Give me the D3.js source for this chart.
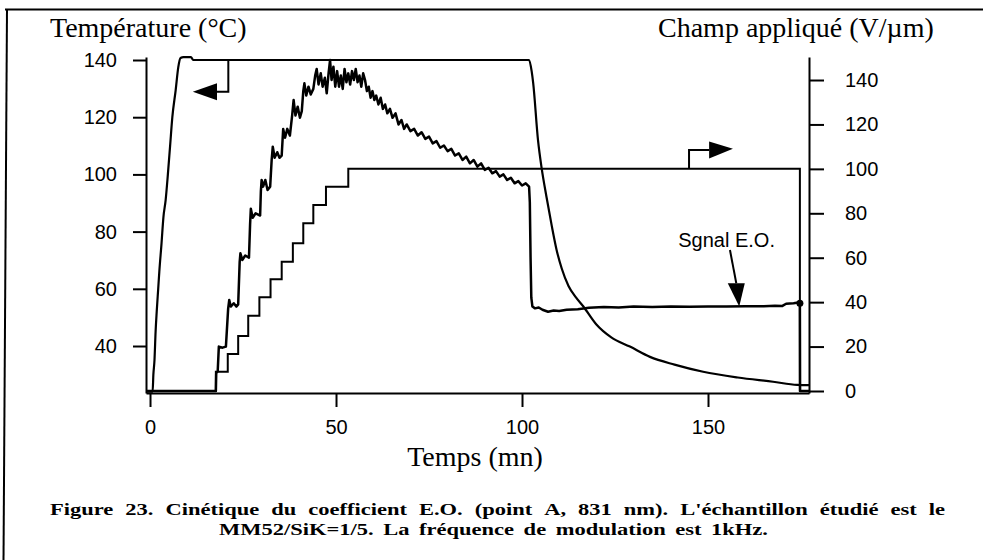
<!DOCTYPE html>
<html><head><meta charset="utf-8">
<script src="https://cdn.jsdelivr.net/npm/d3@7"></script>
<style>
html,body{margin:0;padding:0;background:#fff;}
svg{display:block;}
</style></head>
<body><svg id="c" width="983" height="560"></svg>
<script>
// ---------- data ----------
const xTicks = [0, 50, 100, 150];
const leftTicks = [40, 60, 80, 100, 120, 140];
const rightTicks = [0, 20, 40, 60, 80, 100, 120, 140];

const titleLeft = "Température (°C)";
const titleRight = "Champ appliqué (V/µm)";
const titleX = "Temps (mn)";
const signalLabel = "Sgnal E.O.";
const captionLine1 = "Figure 23. Cinétique du coefficient E.O. (point A, 831 nm). L'échantillon étudié est le";
const captionLine2 = "MM52/SiK=1/5. La fréquence de modulation est 1kHz.";

// temperature (°C, left axis) vs time (mn)
const temperature = [
  [-1.08,24],[0.7,24],[0.9,30],[1.2,35],[1.5,45],[1.8,52],[2.2,60],[2.5,66],[3.1,76],[3.6,85],
  [4.2,91],[4.8,100],[5.4,110],[6.0,120],[6.9,129.5],[7.6,137.5],[8.2,140.7],[9,141],[11,141],
  [11.6,140],[30,140],[60,140],[90,140],[101.9,140],[102.6,136],[103,132],[104.3,112],[105.3,102],
  [106.6,92],[108,82],[109.3,73.6],[110.7,67],[112.5,61],[114.5,57],[116.5,53.8],[120,47.5],
  [124,43],[129,39.8],[134.4,36.2],[141,33.5],[148.7,31],[158,29],[167.5,27.5],[174,26.4],[177.15,26.3]
];

// applied field (V/µm, right axis) – step function
const field = [
  [-1.08,0],[17.7,8.7],[20.9,16.7],[23.7,24.8],[26.4,33.9],[29.4,42.2],[32.4,50.3],[35.4,58.2],
  [38.4,66.5],[41.2,75.5],[43.9,83.7],[47.3,92],[53.3,100],[174.7,0],[177.15,0]
];

// E.O. signal (right-axis units)
const signalEO = [
  [-1.08,0],[17.7,0],[17.8,8],[18.2,9],[18.5,20],[19.5,19.5],[20.4,20],[21.0,37],[21.3,41],[21.7,38],
  [22.5,39.5],[23.2,38],[23.7,39],[24.1,58],[24.3,62],[24.8,59],[25.6,61],[26.6,60],[26.9,75],[27.1,82],
  [27.6,78],[28.4,80],[29.6,79],[29.8,90],[30.0,95],[30.4,92],[31.0,95],[31.6,90.5],[32.3,92],[32.7,104],
  [33.0,110],[33.5,105],[34.2,107.5],[34.8,105],[35.4,106],[35.8,118],[36.3,114],[36.9,118],[37.6,115],
  [38.2,124],[38.6,131],[39.1,124],[39.7,128],[40.3,123],[40.8,126],[41.2,135],[41.5,138.5],[42.0,133],
  [42.6,137],[43.2,133.5],[43.9,136],[44.4,142],[44.8,145],[45.3,138],[45.9,143],[46.4,137],[47.0,141],
  [47.5,134],[48.0,143],[48.4,149],[48.8,140],[49.3,146],[49.8,137],[50.3,144],[50.8,137],[51.3,142],
  [51.8,136],[52.3,145],[52.8,139],[53.3,143],[53.8,138],[54.3,144],[54.8,140],[55.3,145],[55.8,139],
  [56.3,142],[56.8,137],[57.3,143],[57.8,140],[58.3,135],[58.8,137],[59.3,132],[59.8,135],[60.3,131],
  [60.8,133],[61.4,129],[62,132],[62.6,127],[63.2,129],[63.8,125],[64.5,127],[65.2,123],[66,125],
  [66.8,120],[67.6,122],[68.3,118],[69,120],[70,117],[71,118],[72,115],[73,116.5],[74,113.5],[75,114.5],
  [76,111.5],[77,112.5],[78,109.5],[79,110.5],[80,108],[81,109],[82,106],[83,107],[84,104],[85,105.5],
  [86,102.5],[87,104],[88,101],[89,102.5],[90,99.5],[91,100.5],[92,98],[93,99],[94,96.5],[95,97.5],
  [96,95],[97,96],[98,93.5],[99,94.5],[100,92.5],[101,93.5],[101.9,92],[102.1,85],[102.3,60],[102.5,42],
  [102.8,38],[103.5,37.2],[104.5,37.6],[105.5,36.6],[107,35.7],[108.5,36.2],[110,36],[112,36.6],
  [115,36.8],[118,37.5],[122,37.8],[126,37.6],[130,38],[135,37.8],[140,38],[145,37.9],[150,38],
  [155,38],[160,38.1],[165,38.2],[168,38.4],[170,38.3],[171,39.3],[173,39.5],[174.3,39.8],[174.7,39.5],
  [174.75,0],[177.15,0]
];

// annotation arrows (data units)
const arrowTemp  = {start:[21.05,140],   corner:[21.05,128.9], base:[18.0,128.9],  tip:[11.5,128.9]}; // left axis
const arrowField = {start:[144.9,100],   corner:[144.9,108.5], base:[150.3,108.5], tip:[156.7,109]};  // right axis
const arrowSig   = {start:[155.9,63.5],  base:[157.6,48.5],    tip:[158.4,38]};                        // right axis
const signalLabelPos = [142.0, 65];

// ---------- drawing ----------
const svg = d3.select("#c");
const x  = d3.scaleLinear().domain([-1.08, 177.15]).range([146, 809]);
const yL = d3.scaleLinear().domain([23.57, 141.05]).range([393, 57]);
const yR = d3.scaleLinear().domain([-0.9, 150.36]).range([393, 57]);

const ink = "#000";
const sans = "'Liberation Sans', Arial, Helvetica, sans-serif";
const serif = "'Liberation Serif', 'Times New Roman', Times, serif";

// frame
svg.append("line").attr("x1",5).attr("y1",9.5).attr("x2",983).attr("y2",9.5).attr("stroke",ink).attr("stroke-width",2);
svg.append("line").attr("x1",7).attr("y1",9).attr("x2",3.5).attr("y2",560).attr("stroke",ink).attr("stroke-width",2);

// axes
function styleAxis(g){
  g.selectAll("path.domain").attr("stroke",ink).attr("stroke-width",2);
  g.selectAll(".tick line").attr("stroke",ink).attr("stroke-width",2);
  g.selectAll(".tick text").attr("font-family",sans).attr("font-size",20).attr("fill",ink);
}
const gx = svg.append("g").attr("transform","translate(0,393)")
  .call(d3.axisBottom(x).tickValues(xTicks).tickSize(14).tickSizeOuter(0).tickPadding(13));
styleAxis(gx);
const gl = svg.append("g").attr("transform","translate(146,0)")
  .call(d3.axisLeft(yL).tickValues(leftTicks).tickSize(13).tickSizeOuter(0).tickPadding(16));
styleAxis(gl);
const gr = svg.append("g").attr("transform","translate(809,0)")
  .call(d3.axisRight(yR).tickValues(rightTicks).tickSize(15).tickSizeOuter(0).tickPadding(21));
styleAxis(gr);

// series
const lineL = d3.line().x(d=>x(d[0])).y(d=>yL(d[1])).curve(d3.curveMonotoneX);
const lineR = d3.line().x(d=>x(d[0])).y(d=>yR(d[1]));
const lineStep = d3.line().x(d=>x(d[0])).y(d=>yR(d[1])).curve(d3.curveStepAfter);

svg.append("path").datum(field).attr("d",lineStep).attr("fill","none").attr("stroke",ink).attr("stroke-width",2);
svg.append("path").datum(temperature).attr("d",lineL).attr("fill","none").attr("stroke",ink).attr("stroke-width",2.2);
svg.append("path").datum(signalEO).attr("d",lineR).attr("fill","none").attr("stroke",ink).attr("stroke-width",2.5).attr("stroke-linejoin","round");
const endPt = signalEO[signalEO.length-3];
svg.append("circle").attr("cx",x(endPt[0])).attr("cy",yR(endPt[1])).attr("r",3.5).attr("fill",ink);

// arrows
function elbowArrow(a, ys, half){
  const p = [a.start,a.corner,a.base].map(d=>[x(d[0]),ys(d[1])]);
  svg.append("path").attr("d",d3.line()(p)).attr("fill","none").attr("stroke",ink).attr("stroke-width",2);
  const bx = x(a.base[0]), by = ys(a.base[1]), tx = x(a.tip[0]), ty = ys(a.tip[1]);
  svg.append("path").attr("d",`M${tx},${ty}L${bx},${by-half}L${bx},${by+half}Z`).attr("fill",ink);
}
elbowArrow(arrowTemp, yL, 8.5);
elbowArrow(arrowField, yR, 8.5);

{
  const sx = x(arrowSig.start[0]), sy = yR(arrowSig.start[1]);
  const bx = x(arrowSig.base[0]), by = yR(arrowSig.base[1]);
  const tx = x(arrowSig.tip[0]), ty = yR(arrowSig.tip[1]);
  svg.append("line").attr("x1",sx).attr("y1",sy).attr("x2",bx).attr("y2",by).attr("stroke",ink).attr("stroke-width",2);
  svg.append("path").attr("d",`M${tx},${ty}L${bx-8.5},${by}L${bx+8.5},${by}Z`).attr("fill",ink);
}
svg.append("text").attr("x",x(signalLabelPos[0])).attr("y",yR(signalLabelPos[1]))
  .attr("font-family",sans).attr("font-size",20).attr("fill",ink).text(signalLabel);

// titles
svg.append("text").attr("x",50).attr("y",37).attr("font-family",serif).attr("font-size",28).attr("fill",ink).text(titleLeft);
svg.append("text").attr("x",658).attr("y",37).attr("font-family",serif).attr("font-size",28).attr("fill",ink).text(titleRight);
svg.append("text").attr("x",475).attr("y",466).attr("text-anchor","middle").attr("font-family",serif).attr("font-size",28).attr("fill",ink).text(titleX);

// caption (justified bold serif)
function placeWords(line, y){
  const words = line.split(" ");
  const nodes = words.map(w => svg.append("text").attr("y",y).attr("font-family",serif)
    .attr("font-weight","bold").attr("font-size",17).attr("fill",ink).text(w));
  const widths = nodes.map(n => n.node().getComputedTextLength());
  return {nodes, widths, total: d3.sum(widths)};
}
const L1 = placeWords(captionLine1, 515);
const L2 = placeWords(captionLine2, 535);
const gap1 = 12;
const stretch = Math.max(1, (945 - 50 - gap1*(L1.nodes.length-1)) / L1.total);
function layout(L, x0, x1, s){
  const gap = (x1 - x0 - L.total*s) / (L.nodes.length-1);
  let cx = x0;
  L.nodes.forEach((n,i)=>{
    const w = L.widths[i]*s;
    n.attr("x",cx).attr("textLength",w).attr("lengthAdjust","spacingAndGlyphs");
    cx += w + gap;
  });
}
layout(L1, 50, 945, stretch);
layout(L2, 219, 768, stretch);
</script>
</body></html>
